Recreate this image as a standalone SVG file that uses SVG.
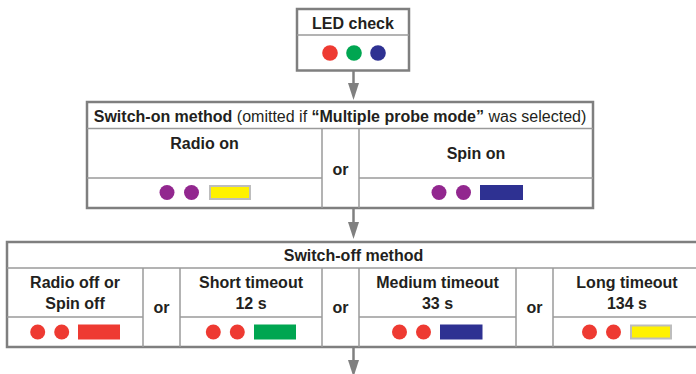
<svg xmlns="http://www.w3.org/2000/svg" width="696" height="374" viewBox="0 0 696 374">
<defs>
<style>
text{font-family:"Liberation Sans",Arial,Helvetica,sans-serif;font-size:16px;fill:#231f20;text-anchor:middle}
.b{font-weight:bold}
.r{font-weight:normal}
.outer{fill:#fff;stroke:#7f7f7f;stroke-width:2.5}
.inner{stroke:#9a9a9a;stroke-width:1.5;fill:none}
.red{fill:#ee3a32}.grn{fill:#00a651}.blu{fill:#2e3192}.pur{fill:#92278f}
.ylw{fill:#fff200;stroke:#bdbdbd;stroke-width:2}
.shaft{stroke:#808080;stroke-width:2.5;fill:none}
.head{fill:#808080}
</style>
</defs>
<g id="connectors">
<line class="shaft" x1="353.5" y1="71" x2="353.5" y2="84"/>
<polygon class="head" points="348,83 359,83 353.5,100"/>
<line class="shaft" x1="353.5" y1="208" x2="353.5" y2="223"/>
<polygon class="head" points="348,222 359,222 353.5,239"/>
<line class="shaft" x1="353.5" y1="347" x2="353.5" y2="361"/>
<polygon class="head" points="348,360 359,360 353.5,377"/>
</g>
<g id="led-check">
<rect class="outer" x="297" y="9" width="112" height="61.5"/>
<line class="inner" x1="297" y1="35" x2="409" y2="35"/>
<text class="b" x="353" y="28.5">LED check</text>
<circle class="red" cx="330" cy="53" r="7.8"/>
<circle class="grn" cx="354" cy="53" r="7.8"/>
<circle class="blu" cx="378" cy="53" r="7.8"/>
</g>
<g id="switch-on">
<rect class="outer" x="87" y="102" width="506" height="106"/>
<line class="inner" x1="87" y1="128.5" x2="593" y2="128.5"/>
<line class="inner" x1="87" y1="178" x2="322" y2="178"/>
<line class="inner" x1="359" y1="178" x2="593" y2="178"/>
<line class="inner" x1="322" y1="128.5" x2="322" y2="208"/>
<line class="inner" x1="359" y1="128.5" x2="359" y2="208"/>
<text x="340" y="121.5"><tspan class="b">Switch-on method</tspan><tspan class="r"> (omitted if </tspan><tspan class="b">“Multiple probe mode”</tspan><tspan class="r"> was selected)</tspan></text>
<text class="b" x="204.5" y="149">Radio on</text>
<text class="b" x="340.5" y="175">or</text>
<text class="b" x="476" y="159">Spin on</text>
<circle class="pur" cx="167" cy="192.5" r="7.5"/>
<circle class="pur" cx="191.5" cy="192.5" r="7.5"/>
<rect class="ylw" x="210" y="186" width="40" height="13"/>
<circle class="pur" cx="439" cy="192.5" r="7.5"/>
<circle class="pur" cx="463.5" cy="192.5" r="7.5"/>
<rect class="blu" x="480" y="185" width="43" height="15"/>
</g>
<g id="switch-off">
<rect class="outer" x="7" y="242" width="694" height="105"/>
<line class="inner" x1="7" y1="268" x2="701" y2="268"/>
<line class="inner" x1="7" y1="317" x2="143" y2="317"/>
<line class="inner" x1="180" y1="317" x2="322" y2="317"/>
<line class="inner" x1="359" y1="317" x2="516" y2="317"/>
<line class="inner" x1="553" y1="317" x2="701" y2="317"/>
<line class="inner" x1="143" y1="268" x2="143" y2="347"/>
<line class="inner" x1="180" y1="268" x2="180" y2="347"/>
<line class="inner" x1="322" y1="268" x2="322" y2="347"/>
<line class="inner" x1="359" y1="268" x2="359" y2="347"/>
<line class="inner" x1="516" y1="268" x2="516" y2="347"/>
<line class="inner" x1="553" y1="268" x2="553" y2="347"/>
<text class="b" x="353.5" y="261">Switch-off method</text>
<text class="b" x="75" y="288">Radio off or</text>
<text class="b" x="75" y="309">Spin off</text>
<text class="b" x="161.5" y="313">or</text>
<text class="b" x="251" y="288">Short timeout</text>
<text class="b" x="251" y="309">12 s</text>
<text class="b" x="340.5" y="313">or</text>
<text class="b" x="437.5" y="288">Medium timeout</text>
<text class="b" x="437.5" y="309">33 s</text>
<text class="b" x="534.5" y="313">or</text>
<text class="b" x="627" y="288">Long timeout</text>
<text class="b" x="627" y="309">134 s</text>
<circle class="red" cx="37.7" cy="332" r="7.5"/>
<circle class="red" cx="61.7" cy="332" r="7.5"/>
<rect class="red" x="78" y="324.5" width="42" height="15"/>
<circle class="red" cx="213.3" cy="332" r="7.5"/>
<circle class="red" cx="237.3" cy="332" r="7.5"/>
<rect class="grn" x="254" y="324.5" width="42" height="15"/>
<circle class="red" cx="399.5" cy="332" r="7.5"/>
<circle class="red" cx="423.5" cy="332" r="7.5"/>
<rect class="blu" x="440" y="324.5" width="42.5" height="15"/>
<circle class="red" cx="589.5" cy="332" r="7.5"/>
<circle class="red" cx="613.5" cy="332" r="7.5"/>
<rect class="ylw" x="631" y="325.5" width="40" height="13"/>
</g>
</svg>
